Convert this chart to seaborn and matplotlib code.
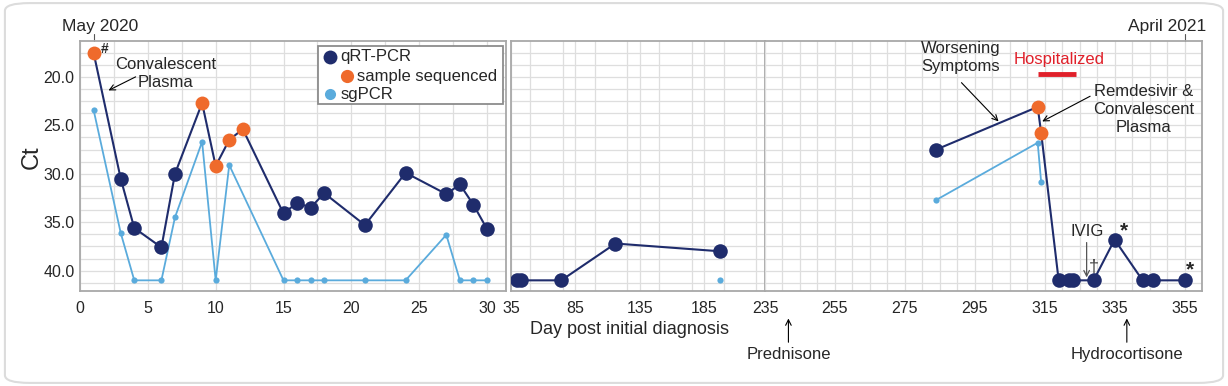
import numpy as np
import seaborn as sns
import matplotlib.pyplot as plt
import pandas as pd
from matplotlib.patches import FancyBboxPatch, Rectangle
from matplotlib.ticker import MultipleLocator, FormatStrFormatter

# qRT-PCR Ct values by day post diagnosis (41 = not detected)
qrt_day = [1, 3, 4, 6, 7, 9, 10, 11, 12, 15, 16, 17, 18, 21, 24, 27, 28, 29, 30,
           40, 43, 74, 116, 197,
           284, 313, 314, 319, 322, 323, 329, 335, 343, 346, 355]
qrt_ct = [17.5, 30.5, 35.6, 37.6, 30.0, 22.7, 29.2, 26.5, 25.4, 34.1, 33.0, 33.5, 32.0, 35.3, 29.9, 32.1, 31.1, 33.2, 35.7,
          41.0, 41.0, 41.0, 37.2, 38.0,
          27.5, 23.1, 25.8, 41.0, 41.0, 41.0, 41.0, 36.8, 41.0, 41.0, 41.0]
sequenced_days = [1, 9, 10, 11, 12, 313, 314]

# subgenomic PCR
sg_day = [1, 3, 4, 6, 7, 9, 10, 11, 15, 16, 17, 18, 21, 24, 27, 28, 29, 30,
          197,
          284, 313, 314]
sg_ct = [23.4, 36.1, 41.0, 41.0, 34.5, 26.7, 41.0, 29.1, 41.0, 41.0, 41.0, 41.0, 41.0, 41.0, 36.3, 41.0, 41.0, 41.0,
         41.0,
         32.7, 26.8, 30.9]

qrt = pd.DataFrame({'day': qrt_day, 'ct': qrt_ct})
qrt['seq'] = qrt['day'].isin(sequenced_days)
sg = pd.DataFrame({'day': sg_day, 'ct': sg_ct})

NAVY = '#1f2c6c'
ORANGE = '#ef6a2b'
LBLUE = '#5aabdc'
SPINE = '#a8a8a8'

sns.set_style('whitegrid')
plt.rcParams['font.family'] = ['Liberation Sans', 'DejaVu Sans']

fig = plt.figure(figsize=(12.28, 3.86), dpi=100)
W, H = 1228, 386
def box(l, r, t=41, b=291):
    return [l / W, 1 - b / H, (r - l) / W, (b - t) / H]

ax1 = fig.add_axes(box(80, 506))
ax2 = fig.add_axes(box(511, 765))
ax3 = fig.add_axes(box(765, 1202))

panels = [(ax1, (0, 31.4), 2.5, [0, 5, 10, 15, 20, 25, 30]),
          (ax2, (35, 232), 25, [35, 85, 135, 185]),
          (ax3, (235, 360), 5, [235, 255, 275, 295, 315, 335, 355])]

for ax, (lo, hi), mnr, ticks in panels:
    q = qrt[(qrt.day >= lo) & (qrt.day <= hi)]
    s = sg[(sg.day >= lo) & (sg.day <= hi)]
    if len(s) > 1:
        sns.lineplot(data=s, x='day', y='ct', ax=ax, color=LBLUE, lw=1.3,
                     estimator=None, sort=False, zorder=3)
    sns.scatterplot(data=s, x='day', y='ct', ax=ax, color=LBLUE, s=20,
                    linewidth=0, zorder=4)
    sns.lineplot(data=q, x='day', y='ct', ax=ax, color=NAVY, lw=1.5,
                 estimator=None, sort=False, zorder=5)
    sns.scatterplot(data=q[~q.seq], x='day', y='ct', ax=ax, color=NAVY, s=110,
                    linewidth=0, zorder=6)
    sns.scatterplot(data=q[q.seq], x='day', y='ct', ax=ax, color=ORANGE, s=100,
                    linewidth=0, zorder=7)

    ax.set_xlim(lo, hi)
    ax.set_ylim(42.1, 16.3)
    ax.set_xticks(ticks)
    ax.xaxis.set_minor_locator(MultipleLocator(mnr))
    ax.yaxis.set_major_locator(MultipleLocator(5))
    ax.yaxis.set_minor_locator(MultipleLocator(1.25))
    ax.yaxis.set_major_formatter(FormatStrFormatter('%.1f'))
    ax.grid(True, which='both', color='#dedede', lw=0.9)
    ax.set_axisbelow(True)
    ax.set_xlabel('')
    ax.set_ylabel('')
    ax.tick_params(axis='x', which='major', length=4, color=SPINE, labelsize=11.5, pad=3)
    ax.tick_params(axis='x', which='minor', length=3, color=SPINE)
    ax.tick_params(axis='y', which='both', length=0, labelsize=11.5, pad=4)
    for sp in ax.spines.values():
        sp.set_color(SPINE)
        sp.set_linewidth(1.3)
    if ax is not ax1:
        ax.tick_params(axis='y', labelleft=False)
ax3.spines['left'].set_visible(False)

# manual legend with indented "sample sequenced"
ax1.add_patch(Rectangle((0.559, 0.748), 0.434, 0.232, transform=ax1.transAxes,
                        facecolor='white', edgecolor='#8c8c8c', lw=1.3, zorder=8))
for mx, my, col, ms, tx, label in [(0.587, 0.936, NAVY, 10, 0.612, 'qRT-PCR'),
                                   (0.626, 0.860, ORANGE, 9.5, 0.650, 'sample sequenced'),
                                   (0.587, 0.788, LBLUE, 8, 0.612, 'sgPCR')]:
    ax1.plot([mx], [my], 'o', ms=ms, color=col, mec='none', transform=ax1.transAxes, zorder=9)
    ax1.text(tx, my, label, transform=ax1.transAxes, va='center', ha='left',
             fontsize=12, zorder=9)

arrow = dict(arrowstyle='->', color='black', lw=0.8, shrinkA=0, shrinkB=0)
fs = 12

# panel 1 annotations
ax1.text(1.8, 17.1, '#', fontsize=10, fontweight='bold', ha='center', va='center')
ax1.text(6.3, 19.7, 'Convalescent\nPlasma', fontsize=fs, ha='center', va='center', linespacing=1.25)
ax1.annotate('', xy=(2.1, 21.4), xytext=(4.1, 20.0), arrowprops=arrow)
xt1 = ax1.get_xaxis_transform()
ax1.plot([1, 1], [1.0, 1.03], color='#555555', lw=0.8, transform=xt1, clip_on=False)
ax1.text(1.5, 1.03, 'May 2020', transform=xt1, ha='center', va='bottom', fontsize=12.5)

# panel 3 annotations
ax3.text(291, 18.0, 'Worsening\nSymptoms', fontsize=fs, ha='center', va='center', linespacing=1.25)
ax3.annotate('', xy=(301.8, 24.6), xytext=(291.2, 20.6), arrowprops=arrow)
ax3.text(319, 18.2, 'Hospitalized', fontsize=fs, color='#e0202a', ha='center', va='center')
ax3.plot([313, 324], [19.7, 19.7], color='#e0202a', lw=3.5, solid_capstyle='butt')
ax3.text(343.3, 23.4, 'Remdesivir &\nConvalescent\nPlasma', fontsize=fs, ha='center',
         va='center', linespacing=1.25)
ax3.annotate('', xy=(314.3, 24.6), xytext=(328, 22.0), arrowprops=arrow)
ax3.text(327.1, 36.0, 'IVIG', fontsize=fs, ha='center', va='center')
ax3.annotate('', xy=(327, 40.7), xytext=(327, 37.1),
             arrowprops=dict(arrowstyle='->', color='#555555', lw=0.9, shrinkA=0, shrinkB=0))
ax3.text(329, 39.6, '\u2020', fontsize=13, ha='center', va='center', color='#444444')
ax3.text(337.8, 35.9, '*', fontsize=15, fontweight='bold', ha='center', va='center')
ax3.text(356.7, 39.9, '*', fontsize=15, fontweight='bold', ha='center', va='center')
xt3 = ax3.get_xaxis_transform()
ax3.plot([355, 355], [1.0, 1.03], color='#555555', lw=0.8, transform=xt3, clip_on=False)
ax3.text(350.1, 1.03, 'April 2021', transform=xt3, ha='center', va='bottom', fontsize=12.5)

for day, label in [(241.7, 'Prednisone'), (338.5, 'Hydrocortisone')]:
    ax3.annotate('', xy=(day, -0.11), xytext=(day, -0.205), xycoords=xt3, textcoords=xt3,
                 arrowprops=arrow, annotation_clip=False)
    ax3.text(day, -0.255, label, transform=xt3, ha='center', va='center', fontsize=12)

fig.text(630 / W, 1 - 329 / H, 'Day post initial diagnosis', ha='center', va='center', fontsize=13)
fig.text(32 / W, 1 - 157 / H, 'Ct', ha='center', va='center', rotation=90, fontsize=17)

# card border
fig.patches.append(FancyBboxPatch((0.004, 0.008), 0.992, 0.984, boxstyle='round,pad=0,rounding_size=0.02',
                                  transform=fig.transFigure, facecolor='none',
                                  edgecolor='#dcdcdc', lw=1.5))

fig.savefig('out.png', dpi=100)
